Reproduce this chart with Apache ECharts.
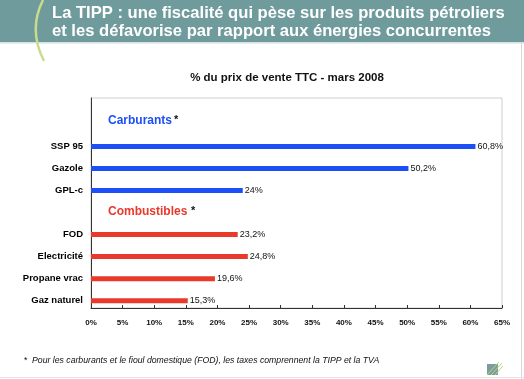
<!DOCTYPE html>
<html><head><meta charset="utf-8">
<script src="https://cdn.jsdelivr.net/npm/echarts@6/dist/echarts.min.js"></script>
<style>html,body{margin:0;padding:0;background:#fff}#c{width:524px;height:379px}</style>
</head><body><div id="c"></div>
<script>
const carburantsLabels = ['SSP 95', 'Gazole', 'GPL-c'];
const carburantsValues = [60.8, 50.2, 24];
const combustiblesLabels = ['FOD', 'Electricité', 'Propane vrac', 'Gaz naturel'];
const combustiblesValues = [23.2, 24.8, 19.6, 15.3];
const xTicks = [0, 5, 10, 15, 20, 25, 30, 35, 40, 45, 50, 55, 60, 65];

const categories = carburantsLabels.concat([''], combustiblesLabels);
const blue = categories.map((c, i) => i < carburantsValues.length ? carburantsValues[i] : null);
const red = categories.map((c, i) => i > carburantsValues.length ? combustiblesValues[i - carburantsValues.length - 1] : null);

const fmt = p => String(p.value).replace('.', ',') + '%';
const F = 'Liberation Sans, Arial, sans-serif';

const chart = echarts.init(document.getElementById('c'), null, {renderer: 'canvas'});
chart.setOption({
  animation: false,
  grid: [
    {left: 91, right: 22, top: 98, bottom: 71, show: true, borderColor: '#cfcfcf', borderWidth: 1, backgroundColor: 'transparent'},
    {left: 91, right: 22, top: 135.4, bottom: 67.3}
  ],
  xAxis: [
    {gridIndex: 0, type: 'value', min: xTicks[0], max: xTicks[xTicks.length - 1], interval: 5,
     axisLine: {show: true, lineStyle: {color: '#333', width: 1}},
     axisTick: {show: true, inside: true, length: 3, lineStyle: {color: '#333'}},
     splitLine: {show: false},
     axisLabel: {formatter: '{value}%', fontFamily: F, fontWeight: 'bold', fontSize: 8, color: '#111', margin: 11}},
    {gridIndex: 1, type: 'value', min: xTicks[0], max: xTicks[xTicks.length - 1], show: false, splitLine: {show: false}}
  ],
  yAxis: [
    {gridIndex: 0, type: 'value', min: 0, max: 1, axisLine: {show: true, lineStyle: {color: '#333'}},
     axisTick: {show: false}, axisLabel: {show: false}, splitLine: {show: false}},
    {gridIndex: 1, type: 'category', inverse: true, data: categories,
     axisLine: {show: false}, axisTick: {show: false}, splitLine: {show: false},
     axisLabel: {fontFamily: F, fontWeight: 'bold', fontSize: 9.5, color: '#000', margin: 8}}
  ],
  series: [
    {type: 'bar', xAxisIndex: 1, yAxisIndex: 1, data: blue, barWidth: 5, barGap: '-100%',
     itemStyle: {color: '#1c4ff5'},
     label: {show: true, position: 'right', distance: 2, formatter: fmt, fontFamily: F, fontSize: 9, color: '#111'}},
    {type: 'bar', xAxisIndex: 1, yAxisIndex: 1, data: red, barWidth: 5, barGap: '-100%',
     itemStyle: {color: '#e8392b'},
     label: {show: true, position: 'right', distance: 2, formatter: fmt, fontFamily: F, fontSize: 9, color: '#111'}}
  ],
  graphic: [
    {type: 'rect', shape: {x: 0, y: 0, width: 524, height: 42}, style: {fill: '#6f9b9c'}, z: 1},
    {type: 'rect', shape: {x: 0, y: 42, width: 524, height: 1.5}, style: {fill: '#d6e0e0'}, z: 1},
    {type: 'bezierCurve', shape: {x1: 43, y1: 0, x2: 44, y2: 61, cpx1: 28, cpy1: 30}, style: {stroke: '#c9dc8e', lineWidth: 2.5, fill: null}, z: 2},
    {type: 'text', x: 52, y: 13, style: {text: 'La TIPP : une fiscalité qui pèse sur les produits pétroliers', fill: '#fff', font: 'bold 16.6px ' + F, verticalAlign: 'middle'}, z: 3},
    {type: 'text', x: 52, y: 31, style: {text: 'et les défavorise par rapport aux énergies concurrentes', fill: '#fff', font: 'bold 16.6px ' + F, verticalAlign: 'middle'}, z: 3},
    {type: 'text', x: 287, y: 78, style: {text: '% du prix de vente TTC - mars 2008', fill: '#111', font: 'bold 11.5px ' + F, align: 'center', verticalAlign: 'middle'}, z: 3},
    {type: 'text', x: 108, y: 121, style: {text: 'Carburants', fill: '#1c4ff5', font: 'bold 12px ' + F, verticalAlign: 'middle'}, z: 3},
    {type: 'text', x: 174, y: 120, style: {text: '*', fill: '#111', font: 'bold 11px ' + F, verticalAlign: 'middle'}, z: 3},
    {type: 'text', x: 108, y: 212, style: {text: 'Combustibles', fill: '#e8392b', font: 'bold 12px ' + F, verticalAlign: 'middle'}, z: 3},
    {type: 'text', x: 191, y: 211, style: {text: '*', fill: '#111', font: 'bold 11px ' + F, verticalAlign: 'middle'}, z: 3},
    {type: 'text', x: 24, y: 361, style: {text: '*', fill: '#111', font: '8.7px ' + F, verticalAlign: 'middle'}, z: 3},
    {type: 'text', x: 32, y: 361, style: {text: 'Pour les carburants et le fioul domestique (FOD), les taxes comprennent la TIPP et la TVA', fill: '#111', font: 'italic 8.7px ' + F, verticalAlign: 'middle'}, z: 3},
    {type: 'rect', shape: {x: 521, y: 43, width: 1, height: 336}, style: {fill: '#d8d8d8'}, z: 1},
    {type: 'rect', shape: {x: 0, y: 377, width: 524, height: 1}, style: {fill: '#e4e4e4'}, z: 1},
    {type: 'rect', shape: {x: 487, y: 364, width: 11, height: 11}, style: {fill: '#7d9ca0'}, z: 2},
    {type: 'line', shape: {x1: 487, y1: 375, x2: 499, y2: 362}, style: {stroke: '#b9d77a', lineWidth: 1}, z: 3},
    {type: 'line', shape: {x1: 491, y1: 375, x2: 502, y2: 363}, style: {stroke: '#b9d77a', lineWidth: 1}, z: 3},
    {type: 'line', shape: {x1: 495, y1: 375, x2: 503, y2: 366}, style: {stroke: '#b9d77a', lineWidth: 1}, z: 3}
  ]
});
</script></body></html>
